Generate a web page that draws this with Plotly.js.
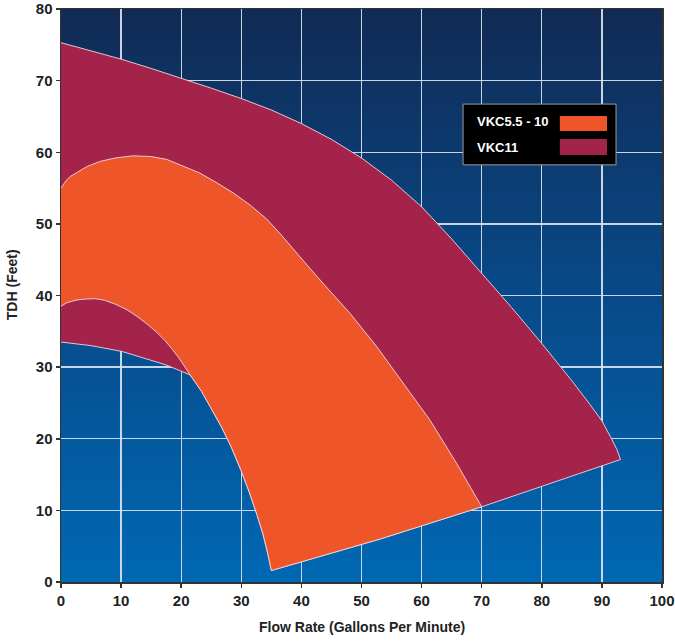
<!DOCTYPE html>
<html>
<head>
<meta charset="utf-8">
<script src="https://cdn.plot.ly/plotly-3.0.1.min.js"></script>
<style>html,body{margin:0;padding:0;background:#fff;}#chart{width:675px;height:641px;}</style>
</head>
<body>
<div id="chart"></div>
<script>
// ---- Data ----
const seriesNames = ['VKC5.5 - 10', 'VKC11'];
const seriesColors = ['#EE5528', '#A3234B'];

// VKC11 operating envelope (closed outline): upper curve, lower edge, inner curve
const vkc11X = [0, 5, 10, 15, 20, 25, 30, 35, 40, 45, 50, 55, 60, 65, 70, 72.8, 75, 80, 83, 85, 88, 90, 91.6, 92.5, 93.1,
                81.5, 70, 53.1, 35.0, 34.4, 33.6, 32.6, 31.3, 29.9, 28.4, 26.8, 25.2, 23.4, 21.5, 20.1, 17.5, 14.8, 10.1, 5, 0];
const vkc11Y = [75.3, 74.2, 73.0, 71.7, 70.35, 68.95, 67.5, 65.9, 64.0, 61.8, 59.2, 56.1, 52.4, 47.9, 43.1, 40.4, 38.3, 33.3, 30.2, 28.1, 24.8, 22.5, 20.0, 18.5, 17.1,
                13.8, 10.5, 6.0, 1.6, 4.0, 6.7, 9.4, 12.6, 15.7, 18.7, 21.5, 24.0, 26.6, 28.9, 29.4, 30.3, 31.0, 32.2, 33.0, 33.5];

// VKC5.5 - 10 operating envelope (closed outline): upper curve, lower edge, inner curve
const vkc55X = [0, 0.8, 1.5, 2.5, 4.3, 6.4, 9, 12, 15, 17.6, 20, 23.1, 26, 28.7, 31.5, 34.2, 36.5, 38.7, 41, 43.6, 48.1, 52.5, 57.0, 61.4, 65.8, 70.0,
                53.1, 35.0, 34.4, 33.6, 32.6, 31.3, 29.9, 28.4, 26.8, 25.2, 23.4, 21.5, 20.6, 19.6, 18.5, 17.3, 16.0, 14.5, 12.8, 11.0, 9.0, 7.2, 5.7, 4, 2.5, 1, 0];
const vkc55Y = [55.0, 56.0, 56.6, 57.1, 58.0, 58.7, 59.2, 59.5, 59.4, 59.0, 58.2, 57.1, 55.7, 54.3, 52.6, 50.7, 48.6, 46.4, 44.2, 41.7, 37.5, 32.9, 27.7, 22.6, 16.6, 10.5,
                6.0, 1.6, 4.0, 6.7, 9.4, 12.6, 15.7, 18.7, 21.5, 24.0, 26.6, 28.9, 30.1, 31.3, 32.5, 33.7, 34.8, 35.9, 37.0, 38.0, 38.8, 39.35, 39.55, 39.5, 39.35, 39.0, 38.5];

const xTitle = 'Flow Rate (Gallons Per Minute)';
const yTitle = 'TDH (Feet)';

// ---- Chart ----
const outline = {color: 'rgba(240,215,225,0.9)', width: 1};
const traces = [
  {x: vkc11X, y: vkc11Y, name: seriesNames[1], type: 'scatter', mode: 'lines', fill: 'toself',
   fillcolor: seriesColors[1], line: outline, hoverinfo: 'skip'},
  {x: vkc55X, y: vkc55Y, name: seriesNames[0], type: 'scatter', mode: 'lines', fill: 'toself',
   fillcolor: seriesColors[0], line: outline, hoverinfo: 'skip'}
];

const svg = "<svg xmlns='http://www.w3.org/2000/svg' width='100' height='100' viewBox='0 0 100 100' preserveAspectRatio='none'>" +
  "<defs><linearGradient id='g' x1='0' y1='0' x2='0' y2='1'>" +
  "<stop offset='0' stop-color='#112a54'/><stop offset='0.5' stop-color='#084a89'/><stop offset='1' stop-color='#0068b3'/>" +
  "</linearGradient></defs><rect x='0' y='0' width='100' height='100' fill='url(#g)'/></svg>";

const tickFont = {family: 'Liberation Sans, Arial, sans-serif', size: 15, color: '#222', weight: 'bold'};
const axisCommon = {
  ticks: 'outside', ticklen: 4, tickwidth: 1.5, tickcolor: '#333',
  showgrid: true, gridcolor: 'rgba(220,230,242,0.9)', gridwidth: 1.3,
  zeroline: false, showline: true, linecolor: '#333', linewidth: 1.5, mirror: true,
  tickfont: tickFont, fixedrange: true
};

const titleFont = {family: 'Liberation Sans, Arial, sans-serif', size: 14, color: '#222', weight: 'bold'};
const legFont = {family: 'Liberation Sans, Arial, sans-serif', size: 13, color: '#fff', weight: 'bold'};

const layout = {
  width: 675, height: 641,
  margin: {l: 61, r: 13, t: 9, b: 59},
  paper_bgcolor: '#ffffff', plot_bgcolor: '#0a4a8a',
  showlegend: false,
  xaxis: Object.assign({range: [0, 100], dtick: 10, tick0: 0}, axisCommon),
  yaxis: Object.assign({range: [0, 80], dtick: 10, tick0: 0}, axisCommon),
  images: [{source: 'data:image/svg+xml;base64,' + btoa(svg), xref: 'paper', yref: 'paper',
            x: 0, y: 1, sizex: 1, sizey: 1, sizing: 'stretch', xanchor: 'left', yanchor: 'top', layer: 'below'}],
  shapes: [
    {type: 'rect', xref: 'paper', yref: 'paper', x0: 0.669, x1: 0.9235, y0: 0.728, y1: 0.834,
     fillcolor: '#000', line: {color: '#9a9a9a', width: 1}, layer: 'above'},
    {type: 'rect', xref: 'paper', yref: 'paper', x0: 0.830, x1: 0.9085, y0: 0.787, y1: 0.8133,
     fillcolor: seriesColors[0], line: {width: 0}, layer: 'above'},
    {type: 'rect', xref: 'paper', yref: 'paper', x0: 0.830, x1: 0.9085, y0: 0.745, y1: 0.773,
     fillcolor: seriesColors[1], line: {width: 0}, layer: 'above'}
  ],
  annotations: [
    {text: seriesNames[0], xref: 'paper', yref: 'paper', x: 0.689, y: 0.8045, xanchor: 'left', yanchor: 'middle',
     showarrow: false, font: legFont},
    {text: seriesNames[1], xref: 'paper', yref: 'paper', x: 0.689, y: 0.759, xanchor: 'left', yanchor: 'middle',
     showarrow: false, font: legFont},
    {text: xTitle, xref: 'paper', yref: 'paper', x: 0.5, y: 0, xanchor: 'center', yanchor: 'middle',
     yshift: -45, showarrow: false, font: titleFont},
    {text: yTitle, xref: 'paper', yref: 'paper', x: 0, y: 0.518, xanchor: 'center', yanchor: 'middle',
     xshift: -49, textangle: -90, showarrow: false, font: titleFont}
  ]
};

Plotly.newPlot('chart', traces, layout, {staticPlot: true, displayModeBar: false});
</script>
</body>
</html>
